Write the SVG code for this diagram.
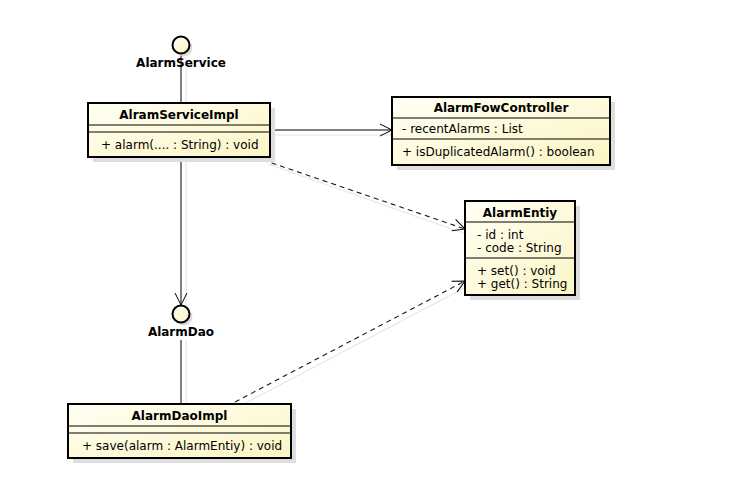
<svg xmlns="http://www.w3.org/2000/svg" width="737" height="504" viewBox="0 0 737 504">
  <style>
    .box { fill: url(#cls); stroke: #000; stroke-width: 2; }
    .shadow { fill: #dedede; }
    .sep { stroke: #000; stroke-width: 1; }
    .title { font-family: "DejaVu Sans", "Liberation Sans", sans-serif; font-size: 12px; font-weight: bold; text-anchor: middle; fill: #000; }
    .member { font-family: "DejaVu Sans", "Liberation Sans", sans-serif; font-size: 12px; fill: #000; }
    .iface { fill: url(#cls); stroke: #000; stroke-width: 2; }
    .link { stroke: #000; stroke-width: 1; fill: none; }
    .dep { stroke: #1a1a1a; stroke-width: 1.1; fill: none; stroke-dasharray: 5 4; }
    .lshadow { stroke: #e6e6e6; stroke-width: 1.2; fill: none; }
  </style>
  <defs>
    <linearGradient id="cls" x1="0" y1="0" x2="1" y2="1">
      <stop offset="0" stop-color="#fffff4"/>
      <stop offset="1" stop-color="#fcf5c4"/>
    </linearGradient>
    <marker id="open" markerUnits="userSpaceOnUse" markerWidth="16" markerHeight="16" viewBox="0 0 16 16" refX="13" refY="7" orient="auto">
      <path d="M1,1 L13,7 L1,13" fill="none" stroke="#000" stroke-width="1"/>
    </marker>
  </defs>

  <rect width="737" height="504" fill="#fff"/>

  <!-- connector shadows -->
  <g id="connector-shadows">
    <line class="lshadow" x1="186" y1="58" x2="186" y2="103"/>
    <line class="lshadow" x1="272" y1="135" x2="392" y2="135"/>
    <line class="lshadow" x1="186" y1="162" x2="186" y2="306"/>
    <line class="lshadow" x1="268" y1="164" x2="466" y2="234"/>
    <line class="lshadow" x1="186" y1="340" x2="186" y2="404"/>
    <line class="lshadow" x1="240" y1="406" x2="468" y2="286"/>
  </g>

  <!-- connectors -->
  <g id="connectors">
    <line class="link" x1="181" y1="54" x2="181" y2="103"/>
    <line class="link" x1="270" y1="130" x2="392" y2="130" marker-end="url(#open)"/>
    <line class="link" x1="181" y1="158" x2="181" y2="305" marker-end="url(#open)"/>
    <line class="dep" x1="263" y1="160" x2="465" y2="229" marker-end="url(#open)"/>
    <line class="link" x1="181" y1="340" x2="181" y2="404"/>
    <line class="dep" x1="235" y1="402" x2="465" y2="281" marker-end="url(#open)"/>
  </g>

  <!-- provided interface AlarmService -->
  <g id="AlarmService">
    <circle cx="184" cy="48" r="8.5" fill="#dcdcdc"/>
    <circle class="iface" cx="181" cy="45" r="8.5"/>
    <text class="title" x="181" y="67">AlarmService</text>
  </g>

  <!-- class AlramServiceImpl -->
  <g id="AlramServiceImpl">
    <rect class="shadow" x="93" y="108" width="182" height="54"/>
    <rect class="box" x="88" y="103" width="182" height="54"/>
    <line class="sep" x1="88" y1="125" x2="270" y2="125"/>
    <line class="sep" x1="88" y1="132" x2="270" y2="132"/>
    <text class="title" x="179" y="119">AlramServiceImpl</text>
    <text class="member" x="101" y="149">+ alarm(.... : String) : void</text>
  </g>

  <!-- class AlarmFowController -->
  <g id="AlarmFowController">
    <rect class="shadow" x="397" y="102" width="218" height="68"/>
    <rect class="box" x="392" y="97" width="218" height="68"/>
    <line class="sep" x1="392" y1="118" x2="610" y2="118"/>
    <line class="sep" x1="392" y1="139" x2="610" y2="139"/>
    <text class="title" x="501" y="112">AlarmFowController</text>
    <text class="member" x="402" y="133">- recentAlarms : List</text>
    <text class="member" x="402" y="156">+ isDuplicatedAlarm() : boolean</text>
  </g>

  <!-- class AlarmEntiy -->
  <g id="AlarmEntiy">
    <rect class="shadow" x="470" y="206" width="110" height="94"/>
    <rect class="box" x="465" y="201" width="110" height="94"/>
    <line class="sep" x1="465" y1="222" x2="575" y2="222"/>
    <line class="sep" x1="465" y1="258" x2="575" y2="258"/>
    <text class="title" x="520" y="217">AlarmEntiy</text>
    <text class="member" x="477" y="239">- id : int</text>
    <text class="member" x="477" y="252">- code : String</text>
    <text class="member" x="477" y="275">+ set() : void</text>
    <text class="member" x="477" y="288">+ get() : String</text>
  </g>

  <!-- provided interface AlarmDao -->
  <g id="AlarmDao">
    <circle cx="184" cy="317" r="8.5" fill="#dcdcdc"/>
    <circle class="iface" cx="181" cy="314" r="8.5"/>
    <text class="title" x="181" y="336">AlarmDao</text>
  </g>

  <!-- class AlarmDaoImpl -->
  <g id="AlarmDaoImpl">
    <rect class="shadow" x="73" y="409" width="223" height="54"/>
    <rect class="box" x="68" y="404" width="223" height="54"/>
    <line class="sep" x1="68" y1="426" x2="291" y2="426"/>
    <line class="sep" x1="68" y1="433" x2="291" y2="433"/>
    <text class="title" x="179.5" y="420">AlarmDaoImpl</text>
    <text class="member" x="82" y="450">+ save(alarm : AlarmEntiy) : void</text>
  </g>
</svg>
